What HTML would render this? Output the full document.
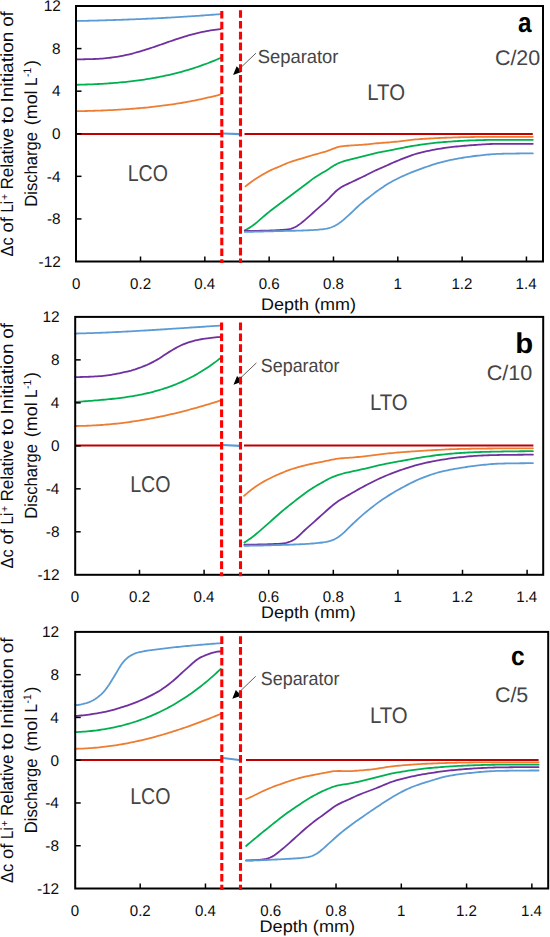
<!DOCTYPE html>
<html><head><meta charset="utf-8"><title>Li+ concentration profiles</title>
<style>
html,body{margin:0;padding:0;background:#fff;}
body{width:550px;height:937px;overflow:hidden;position:relative;}
svg{position:absolute;left:0;top:0;display:block;}
text{font-family:"Liberation Sans",sans-serif;text-rendering:geometricPrecision;}
</style></head><body>
<svg width="550" height="937" viewBox="0 0 550 937">
<rect x="0" y="0" width="550" height="937" fill="#fff"/>
<path d="M76,134 L221.5,134" stroke="#C00000" stroke-width="2" fill="none"/>
<path d="M244.5,134 L532.8,134" stroke="#C00000" stroke-width="2" fill="none"/>
<path d="M76.4,111.21 L78.4,111.18 L80.4,111.13 L82.4,111.09 L84.4,111.04 L86.4,110.99 L88.4,110.94 L90.4,110.89 L92.4,110.83 L94.4,110.76 L96.4,110.7 L98.4,110.63 L100.4,110.55 L102.4,110.48 L104.4,110.4 L106.4,110.31 L108.4,110.22 L110.4,110.13 L112.4,110.03 L114.4,109.92 L116.4,109.82 L118.4,109.7 L120.4,109.58 L122.4,109.46 L124.4,109.33 L126.4,109.2 L128.4,109.06 L130.4,108.91 L132.4,108.76 L134.4,108.61 L136.4,108.44 L138.4,108.27 L140.4,108.1 L142.4,107.92 L144.4,107.73 L146.4,107.53 L148.4,107.33 L150.4,107.12 L152.4,106.91 L154.4,106.68 L156.4,106.45 L158.4,106.21 L160.4,105.97 L162.4,105.72 L164.4,105.46 L166.4,105.19 L168.4,104.91 L170.4,104.62 L172.4,104.33 L174.4,104.03 L176.4,103.72 L178.4,103.4 L180.4,103.07 L182.4,102.74 L184.4,102.39 L186.4,102.04 L188.4,101.67 L190.4,101.3 L192.4,100.91 L194.4,100.52 L196.4,100.12 L198.4,99.71 L200.4,99.28 L202.4,98.85 L204.4,98.41 L206.4,97.95 L208.4,97.49 L210.4,97.01 L212.4,96.53 L214.4,96.03 L216.4,95.52 L218.4,95.01 L220.4,94.48 L220.6,94.42" fill="none" stroke="#ED7D31" stroke-width="1.8" stroke-linejoin="round" stroke-linecap="round"/>
<path d="M76.4,84.8 L78.4,84.75 L80.4,84.7 L82.4,84.64 L84.4,84.58 L86.4,84.51 L88.4,84.44 L90.4,84.36 L92.4,84.28 L94.4,84.19 L96.4,84.1 L98.4,84 L100.4,83.89 L102.4,83.78 L104.4,83.66 L106.4,83.53 L108.4,83.4 L110.4,83.26 L112.4,83.11 L114.4,82.95 L116.4,82.79 L118.4,82.61 L120.4,82.43 L122.4,82.24 L124.4,82.05 L126.4,81.84 L128.4,81.62 L130.4,81.4 L132.4,81.16 L134.4,80.91 L136.4,80.66 L138.4,80.39 L140.4,80.12 L142.4,79.83 L144.4,79.53 L146.4,79.22 L148.4,78.9 L150.4,78.57 L152.4,78.22 L154.4,77.87 L156.4,77.5 L158.4,77.12 L160.4,76.73 L162.4,76.32 L164.4,75.9 L166.4,75.47 L168.4,75.02 L170.4,74.57 L172.4,74.09 L174.4,73.6 L176.4,73.1 L178.4,72.59 L180.4,72.06 L182.4,71.51 L184.4,70.95 L186.4,70.37 L188.4,69.78 L190.4,69.18 L192.4,68.55 L194.4,67.91 L196.4,67.26 L198.4,66.58 L200.4,65.9 L202.4,65.19 L204.4,64.47 L206.4,63.72 L208.4,62.97 L210.4,62.19 L212.4,61.39 L214.4,60.58 L216.4,59.75 L218.4,58.9 L220.4,58.03 L220.6,57.94" fill="none" stroke="#00B050" stroke-width="1.8" stroke-linejoin="round" stroke-linecap="round"/>
<path d="M76.4,59.41 L78.4,59.36 L80.4,59.32 L82.4,59.28 L84.4,59.24 L86.4,59.21 L88.4,59.16 L90.4,59.11 L92.4,59.05 L94.4,58.98 L96.4,58.9 L98.4,58.79 L100.4,58.67 L102.4,58.53 L104.4,58.37 L106.4,58.18 L108.4,57.97 L110.4,57.74 L112.4,57.48 L114.4,57.2 L116.4,56.89 L118.4,56.56 L120.4,56.2 L122.4,55.81 L124.4,55.41 L126.4,54.97 L128.4,54.51 L130.4,54.03 L132.4,53.53 L134.4,53 L136.4,52.46 L138.4,51.89 L140.4,51.31 L142.4,50.7 L144.4,50.09 L146.4,49.45 L148.4,48.81 L150.4,48.15 L152.4,47.48 L154.4,46.8 L156.4,46.11 L158.4,45.42 L160.4,44.73 L162.4,44.03 L164.4,43.33 L166.4,42.64 L168.4,41.94 L170.4,41.25 L172.4,40.56 L174.4,39.89 L176.4,39.22 L178.4,38.56 L180.4,37.91 L182.4,37.28 L184.4,36.66 L186.4,36.06 L188.4,35.47 L190.4,34.91 L192.4,34.36 L194.4,33.83 L196.4,33.33 L198.4,32.85 L200.4,32.39 L202.4,31.95 L204.4,31.54 L206.4,31.15 L208.4,30.79 L210.4,30.45 L212.4,30.14 L214.4,29.85 L216.4,29.59 L218.4,29.35 L220.4,29.13 L220.6,29.11" fill="none" stroke="#7030A0" stroke-width="1.8" stroke-linejoin="round" stroke-linecap="round"/>
<path d="M76.4,21.01 L78.4,20.97 L80.4,20.93 L82.4,20.88 L84.4,20.84 L86.4,20.79 L88.4,20.74 L90.4,20.69 L92.4,20.64 L94.4,20.59 L96.4,20.54 L98.4,20.48 L100.4,20.43 L102.4,20.37 L104.4,20.31 L106.4,20.26 L108.4,20.19 L110.4,20.13 L112.4,20.07 L114.4,20 L116.4,19.94 L118.4,19.87 L120.4,19.8 L122.4,19.73 L124.4,19.66 L126.4,19.59 L128.4,19.51 L130.4,19.43 L132.4,19.36 L134.4,19.28 L136.4,19.2 L138.4,19.11 L140.4,19.03 L142.4,18.94 L144.4,18.85 L146.4,18.76 L148.4,18.67 L150.4,18.58 L152.4,18.49 L154.4,18.39 L156.4,18.29 L158.4,18.19 L160.4,18.09 L162.4,17.99 L164.4,17.88 L166.4,17.77 L168.4,17.67 L170.4,17.55 L172.4,17.44 L174.4,17.33 L176.4,17.21 L178.4,17.09 L180.4,16.97 L182.4,16.85 L184.4,16.72 L186.4,16.6 L188.4,16.47 L190.4,16.34 L192.4,16.2 L194.4,16.07 L196.4,15.93 L198.4,15.79 L200.4,15.65 L202.4,15.51 L204.4,15.36 L206.4,15.22 L208.4,15.06 L210.4,14.91 L212.4,14.76 L214.4,14.6 L216.4,14.44 L218.4,14.28 L220.4,14.12 L220.6,14.1" fill="none" stroke="#5B9BD5" stroke-width="1.8" stroke-linejoin="round" stroke-linecap="round"/>
<path d="M245.5,186.4 L247.5,184.81 L249.5,183.26 L251.5,181.78 L253.5,180.37 L255.5,179.03 L257.5,177.76 L259.5,176.52 L261.5,175.3 L263.5,174.11 L265.5,172.95 L267.5,171.85 L269.5,170.82 L271.5,169.86 L273.5,168.98 L275.5,168.14 L277.5,167.31 L279.5,166.48 L281.5,165.62 L283.5,164.74 L285.5,163.87 L287.5,163.03 L289.5,162.25 L291.5,161.55 L293.5,160.9 L295.5,160.3 L297.5,159.72 L299.5,159.13 L301.5,158.54 L303.5,157.93 L305.5,157.32 L307.5,156.7 L309.5,156.09 L311.5,155.49 L313.5,154.91 L315.5,154.34 L317.5,153.79 L319.5,153.25 L321.5,152.72 L323.5,152.18 L325.5,151.59 L327.5,150.95 L329.5,150.22 L331.5,149.41 L333.5,148.58 L335.5,147.81 L337.5,147.17 L339.5,146.69 L341.5,146.36 L343.5,146.12 L345.5,145.93 L347.5,145.76 L349.5,145.61 L351.5,145.46 L353.5,145.32 L355.5,145.18 L357.5,145.05 L359.5,144.92 L361.5,144.79 L363.5,144.64 L365.5,144.48 L367.5,144.3 L369.5,144.1 L371.5,143.89 L373.5,143.67 L375.5,143.45 L377.5,143.25 L379.5,143.06 L381.5,142.9 L383.5,142.75 L385.5,142.62 L387.5,142.48 L389.5,142.32 L391.5,142.15 L393.5,141.96 L395.5,141.75 L397.5,141.52 L399.5,141.28 L401.5,141.04 L403.5,140.79 L405.5,140.54 L407.5,140.3 L409.5,140.07 L411.5,139.85 L413.5,139.64 L415.5,139.46 L417.5,139.3 L419.5,139.15 L421.5,139.01 L423.5,138.88 L425.5,138.75 L427.5,138.63 L429.5,138.51 L431.5,138.4 L433.5,138.3 L435.5,138.2 L437.5,138.1 L439.5,138.01 L441.5,137.92 L443.5,137.84 L445.5,137.76 L447.5,137.69 L449.5,137.61 L451.5,137.54 L453.5,137.47 L455.5,137.4 L457.5,137.33 L459.5,137.27 L461.5,137.21 L463.5,137.16 L465.5,137.11 L467.5,137.07 L469.5,137.04 L471.5,137.01 L473.5,136.98 L475.5,136.96 L477.5,136.94 L479.5,136.92 L481.5,136.9 L483.5,136.88 L485.5,136.86 L487.5,136.85 L489.5,136.83 L491.5,136.82 L493.5,136.81 L495.5,136.81 L497.5,136.8 L499.5,136.8 L501.5,136.8 L503.5,136.8 L505.5,136.8 L507.5,136.8 L509.5,136.8 L511.5,136.8 L513.5,136.8 L515.5,136.8 L517.5,136.8 L519.5,136.8 L521.5,136.8 L523.5,136.8 L525.5,136.8 L527.5,136.8 L529.5,136.8 L531.5,136.8 L532.8,136.8" fill="none" stroke="#ED7D31" stroke-width="1.8" stroke-linejoin="round" stroke-linecap="round"/>
<path d="M244.8,230.4 L246.8,229.3 L248.8,228.14 L250.8,226.88 L252.8,225.5 L254.8,223.99 L256.8,222.35 L258.8,220.63 L260.8,218.89 L262.8,217.18 L264.8,215.48 L266.8,213.81 L268.8,212.16 L270.8,210.54 L272.8,208.97 L274.8,207.44 L276.8,205.95 L278.8,204.47 L280.8,203 L282.8,201.51 L284.8,200.02 L286.8,198.52 L288.8,197.02 L290.8,195.52 L292.8,194.03 L294.8,192.53 L296.8,191.03 L298.8,189.54 L300.8,188.04 L302.8,186.53 L304.8,185.01 L306.8,183.47 L308.8,181.92 L310.8,180.37 L312.8,178.88 L314.8,177.48 L316.8,176.17 L318.8,174.94 L320.8,173.76 L322.8,172.59 L324.8,171.4 L326.8,170.17 L328.8,168.9 L330.8,167.6 L332.8,166.31 L334.8,165.1 L336.8,164.01 L338.8,163.06 L340.8,162.24 L342.8,161.52 L344.8,160.88 L346.8,160.3 L348.8,159.77 L350.8,159.27 L352.8,158.79 L354.8,158.31 L356.8,157.83 L358.8,157.34 L360.8,156.84 L362.8,156.34 L364.8,155.83 L366.8,155.33 L368.8,154.83 L370.8,154.33 L372.8,153.84 L374.8,153.37 L376.8,152.91 L378.8,152.47 L380.8,152.05 L382.8,151.65 L384.8,151.27 L386.8,150.89 L388.8,150.52 L390.8,150.14 L392.8,149.76 L394.8,149.36 L396.8,148.97 L398.8,148.57 L400.8,148.17 L402.8,147.77 L404.8,147.38 L406.8,147 L408.8,146.62 L410.8,146.26 L412.8,145.92 L414.8,145.59 L416.8,145.29 L418.8,144.99 L420.8,144.71 L422.8,144.43 L424.8,144.16 L426.8,143.9 L428.8,143.64 L430.8,143.39 L432.8,143.16 L434.8,142.93 L436.8,142.72 L438.8,142.52 L440.8,142.33 L442.8,142.15 L444.8,141.98 L446.8,141.83 L448.8,141.68 L450.8,141.53 L452.8,141.39 L454.8,141.26 L456.8,141.13 L458.8,141.01 L460.8,140.89 L462.8,140.79 L464.8,140.69 L466.8,140.6 L468.8,140.51 L470.8,140.44 L472.8,140.37 L474.8,140.3 L476.8,140.24 L478.8,140.18 L480.8,140.12 L482.8,140.06 L484.8,140.01 L486.8,139.96 L488.8,139.92 L490.8,139.88 L492.8,139.85 L494.8,139.83 L496.8,139.81 L498.8,139.8 L500.8,139.8 L502.8,139.8 L504.8,139.8 L506.8,139.8 L508.8,139.8 L510.8,139.8 L512.8,139.8 L514.8,139.8 L516.8,139.8 L518.8,139.8 L520.8,139.8 L522.8,139.8 L524.8,139.8 L526.8,139.8 L528.8,139.8 L530.8,139.8 L532.8,139.8" fill="none" stroke="#00B050" stroke-width="1.8" stroke-linejoin="round" stroke-linecap="round"/>
<path d="M244.8,231 L246.8,230.99 L248.8,230.98 L250.8,230.96 L252.8,230.93 L254.8,230.9 L256.8,230.86 L258.8,230.81 L260.8,230.76 L262.8,230.71 L264.8,230.65 L266.8,230.59 L268.8,230.53 L270.8,230.46 L272.8,230.38 L274.8,230.3 L276.8,230.19 L278.8,230.07 L280.8,229.95 L282.8,229.81 L284.8,229.66 L286.8,229.47 L288.8,229.19 L290.8,228.77 L292.8,228.13 L294.8,227.26 L296.8,226.17 L298.8,224.87 L300.8,223.39 L302.8,221.77 L304.8,220.09 L306.8,218.37 L308.8,216.61 L310.8,214.82 L312.8,213.01 L314.8,211.19 L316.8,209.38 L318.8,207.62 L320.8,205.88 L322.8,204.17 L324.8,202.42 L326.8,200.59 L328.8,198.62 L330.8,196.49 L332.8,194.32 L334.8,192.27 L336.8,190.46 L338.8,188.9 L340.8,187.54 L342.8,186.35 L344.8,185.29 L346.8,184.33 L348.8,183.41 L350.8,182.49 L352.8,181.54 L354.8,180.58 L356.8,179.62 L358.8,178.67 L360.8,177.73 L362.8,176.78 L364.8,175.82 L366.8,174.82 L368.8,173.8 L370.8,172.78 L372.8,171.77 L374.8,170.8 L376.8,169.87 L378.8,168.98 L380.8,168.11 L382.8,167.24 L384.8,166.36 L386.8,165.47 L388.8,164.58 L390.8,163.68 L392.8,162.8 L394.8,161.93 L396.8,161.09 L398.8,160.26 L400.8,159.45 L402.8,158.64 L404.8,157.84 L406.8,157.06 L408.8,156.3 L410.8,155.58 L412.8,154.89 L414.8,154.26 L416.8,153.67 L418.8,153.13 L420.8,152.61 L422.8,152.12 L424.8,151.65 L426.8,151.2 L428.8,150.76 L430.8,150.35 L432.8,149.95 L434.8,149.57 L436.8,149.21 L438.8,148.87 L440.8,148.55 L442.8,148.25 L444.8,147.97 L446.8,147.7 L448.8,147.44 L450.8,147.2 L452.8,146.96 L454.8,146.73 L456.8,146.52 L458.8,146.31 L460.8,146.11 L462.8,145.93 L464.8,145.75 L466.8,145.58 L468.8,145.42 L470.8,145.27 L472.8,145.13 L474.8,144.99 L476.8,144.85 L478.8,144.71 L480.8,144.57 L482.8,144.44 L484.8,144.31 L486.8,144.2 L488.8,144.09 L490.8,144 L492.8,143.93 L494.8,143.87 L496.8,143.83 L498.8,143.81 L500.8,143.8 L502.8,143.8 L504.8,143.8 L506.8,143.8 L508.8,143.8 L510.8,143.8 L512.8,143.8 L514.8,143.8 L516.8,143.8 L518.8,143.8 L520.8,143.8 L522.8,143.8 L524.8,143.8 L526.8,143.8 L528.8,143.8 L530.8,143.8 L532.8,143.8" fill="none" stroke="#7030A0" stroke-width="1.8" stroke-linejoin="round" stroke-linecap="round"/>
<path d="M244.8,231.9 L246.8,231.86 L248.8,231.82 L250.8,231.77 L252.8,231.73 L254.8,231.69 L256.8,231.64 L258.8,231.6 L260.8,231.55 L262.8,231.51 L264.8,231.46 L266.8,231.41 L268.8,231.36 L270.8,231.32 L272.8,231.27 L274.8,231.22 L276.8,231.17 L278.8,231.12 L280.8,231.07 L282.8,231.02 L284.8,230.97 L286.8,230.92 L288.8,230.88 L290.8,230.83 L292.8,230.78 L294.8,230.73 L296.8,230.68 L298.8,230.62 L300.8,230.56 L302.8,230.49 L304.8,230.42 L306.8,230.34 L308.8,230.26 L310.8,230.16 L312.8,230.06 L314.8,229.94 L316.8,229.8 L318.8,229.65 L320.8,229.47 L322.8,229.25 L324.8,228.98 L326.8,228.61 L328.8,228.12 L330.8,227.5 L332.8,226.75 L334.8,225.82 L336.8,224.7 L338.8,223.39 L340.8,221.94 L342.8,220.37 L344.8,218.69 L346.8,216.92 L348.8,215.09 L350.8,213.22 L352.8,211.32 L354.8,209.4 L356.8,207.5 L358.8,205.65 L360.8,203.88 L362.8,202.19 L364.8,200.57 L366.8,198.99 L368.8,197.43 L370.8,195.88 L372.8,194.34 L374.8,192.82 L376.8,191.33 L378.8,189.88 L380.8,188.48 L382.8,187.13 L384.8,185.82 L386.8,184.56 L388.8,183.34 L390.8,182.19 L392.8,181.08 L394.8,180.01 L396.8,178.99 L398.8,178 L400.8,177.05 L402.8,176.12 L404.8,175.22 L406.8,174.35 L408.8,173.51 L410.8,172.7 L412.8,171.9 L414.8,171.13 L416.8,170.38 L418.8,169.64 L420.8,168.91 L422.8,168.19 L424.8,167.47 L426.8,166.75 L428.8,166.04 L430.8,165.35 L432.8,164.68 L434.8,164.04 L436.8,163.43 L438.8,162.85 L440.8,162.31 L442.8,161.8 L444.8,161.31 L446.8,160.84 L448.8,160.39 L450.8,159.96 L452.8,159.55 L454.8,159.16 L456.8,158.78 L458.8,158.42 L460.8,158.07 L462.8,157.74 L464.8,157.42 L466.8,157.11 L468.8,156.81 L470.8,156.53 L472.8,156.26 L474.8,156 L476.8,155.76 L478.8,155.54 L480.8,155.32 L482.8,155.11 L484.8,154.91 L486.8,154.71 L488.8,154.52 L490.8,154.35 L492.8,154.19 L494.8,154.05 L496.8,153.94 L498.8,153.85 L500.8,153.79 L502.8,153.74 L504.8,153.7 L506.8,153.66 L508.8,153.62 L510.8,153.59 L512.8,153.56 L514.8,153.53 L516.8,153.5 L518.8,153.48 L520.8,153.46 L522.8,153.44 L524.8,153.43 L526.8,153.42 L528.8,153.41 L530.8,153.4 L532.8,153.4" fill="none" stroke="#5B9BD5" stroke-width="1.8" stroke-linejoin="round" stroke-linecap="round"/>
<path d="M222.5,133.5 L240,134.2" stroke="#5B9BD5" stroke-width="2.2" fill="none"/>
<line x1="255.9" y1="53.2" x2="239.33" y2="68.97" stroke="#4d4d4d" stroke-width="0.9"/>
<path d="M233.1,74.9 L236.64,66.15 L242.02,71.8 Z" fill="#000"/>
<rect x="76" y="6" width="467" height="255.5" fill="none" stroke="#000" stroke-width="2"/>
<path d="M221.8,10.9 V18.5 M221.8,21.7 V29.3 M221.8,32.5 V40.1 M221.8,43.3 V50.9 M221.8,54.1 V61.7 M221.8,64.9 V72.5 M221.8,75.7 V83.3 M221.8,86.5 V94.1 M221.8,97.3 V104.9 M221.8,108.1 V115.7 M221.8,118.9 V126.5 M221.8,129.7 V137.3 M221.8,140.5 V148.1 M221.8,151.3 V158.9 M221.8,162.1 V169.7 M221.8,172.9 V180.5 M221.8,183.7 V191.3 M221.8,194.5 V202.1 M221.8,205.3 V212.9 M221.8,216.1 V223.7 M221.8,226.9 V234.5 M221.8,237.7 V245.3 M221.8,248.5 V256.1 M221.8,259.3 V263" stroke="#FF0000" stroke-width="3.1" fill="none"/>
<path d="M240.5,10.2 V17.8 M240.5,21 V28.6 M240.5,31.8 V39.4 M240.5,42.6 V50.2 M240.5,53.4 V61 M240.5,64.2 V71.8 M240.5,75 V82.6 M240.5,85.8 V93.4 M240.5,96.6 V104.2 M240.5,107.4 V115 M240.5,118.2 V125.8 M240.5,129 V136.6 M240.5,139.8 V147.4 M240.5,150.6 V158.2 M240.5,161.4 V169 M240.5,172.2 V179.8 M240.5,183 V190.6 M240.5,193.8 V201.4 M240.5,204.6 V212.2 M240.5,215.4 V223 M240.5,226.2 V233.8 M240.5,237 V244.6 M240.5,247.8 V255.4 M240.5,258.6 V263" stroke="#FF0000" stroke-width="3.1" fill="none"/>
<line x1="76" y1="48.58" x2="81.5" y2="48.58" stroke="#000" stroke-width="1.5"/>
<line x1="76" y1="91.17" x2="81.5" y2="91.17" stroke="#000" stroke-width="1.5"/>
<line x1="76" y1="133.75" x2="81.5" y2="133.75" stroke="#000" stroke-width="1.5"/>
<line x1="76" y1="176.33" x2="81.5" y2="176.33" stroke="#000" stroke-width="1.5"/>
<line x1="76" y1="218.92" x2="81.5" y2="218.92" stroke="#000" stroke-width="1.5"/>
<line x1="140.52" y1="261.5" x2="140.52" y2="256.5" stroke="#000" stroke-width="1.5"/>
<line x1="204.84" y1="261.5" x2="204.84" y2="256.5" stroke="#000" stroke-width="1.5"/>
<line x1="269.16" y1="261.5" x2="269.16" y2="256.5" stroke="#000" stroke-width="1.5"/>
<line x1="333.48" y1="261.5" x2="333.48" y2="256.5" stroke="#000" stroke-width="1.5"/>
<line x1="397.8" y1="261.5" x2="397.8" y2="256.5" stroke="#000" stroke-width="1.5"/>
<line x1="462.12" y1="261.5" x2="462.12" y2="256.5" stroke="#000" stroke-width="1.5"/>
<line x1="526.44" y1="261.5" x2="526.44" y2="256.5" stroke="#000" stroke-width="1.5"/>
<text x="43.65" y="11.3" font-size="15.4" textLength="17.13" lengthAdjust="spacingAndGlyphs" fill="#0d0d0d">12</text>
<text x="52.1" y="53.88" font-size="15.4" textLength="8.56" lengthAdjust="spacingAndGlyphs" fill="#0d0d0d">8</text>
<text x="51.89" y="96.47" font-size="15.4" textLength="8.56" lengthAdjust="spacingAndGlyphs" fill="#0d0d0d">4</text>
<text x="52.04" y="139.05" font-size="15.4" textLength="8.56" lengthAdjust="spacingAndGlyphs" fill="#0d0d0d">0</text>
<text x="46.76" y="181.63" font-size="15.4" textLength="13.69" lengthAdjust="spacingAndGlyphs" fill="#0d0d0d">-4</text>
<text x="46.98" y="224.22" font-size="15.4" textLength="13.69" lengthAdjust="spacingAndGlyphs" fill="#0d0d0d">-8</text>
<text x="38.52" y="266.8" font-size="15.4" textLength="22.26" lengthAdjust="spacingAndGlyphs" fill="#0d0d0d">-12</text>
<text x="72" y="289" font-size="15.4" textLength="8.39" lengthAdjust="spacingAndGlyphs" fill="#0d0d0d">0</text>
<text x="130.11" y="289" font-size="15.4" textLength="20.98" lengthAdjust="spacingAndGlyphs" fill="#0d0d0d">0.2</text>
<text x="194.28" y="289" font-size="15.4" textLength="20.98" lengthAdjust="spacingAndGlyphs" fill="#0d0d0d">0.4</text>
<text x="258.71" y="289" font-size="15.4" textLength="20.98" lengthAdjust="spacingAndGlyphs" fill="#0d0d0d">0.6</text>
<text x="323.02" y="289" font-size="15.4" textLength="20.98" lengthAdjust="spacingAndGlyphs" fill="#0d0d0d">0.8</text>
<text x="393.4" y="289" font-size="15.4" textLength="8.39" lengthAdjust="spacingAndGlyphs" fill="#0d0d0d">1</text>
<text x="451.43" y="289" font-size="15.4" textLength="20.98" lengthAdjust="spacingAndGlyphs" fill="#0d0d0d">1.2</text>
<text x="515.6" y="289" font-size="15.4" textLength="20.98" lengthAdjust="spacingAndGlyphs" fill="#0d0d0d">1.4</text>
<text x="261.12" y="309.9" font-size="16.8" textLength="94.99" lengthAdjust="spacingAndGlyphs" fill="#0d0d0d">Depth (mm)</text>
<text x="257.66" y="62.9" font-size="18.9" textLength="80.84" lengthAdjust="spacingAndGlyphs" fill="#454545">Separator</text>
<text x="367.31" y="99.5" font-size="22.4" textLength="37.72" lengthAdjust="spacingAndGlyphs" fill="#454545">LTO</text>
<text x="127.69" y="181.3" font-size="23" textLength="40.24" lengthAdjust="spacingAndGlyphs" fill="#454545">LCO</text>
<text x="494.91" y="64.6" font-size="21" textLength="45.33" lengthAdjust="spacingAndGlyphs" fill="#454545">C/20</text>
<text x="518.09" y="32.2" font-size="28" textLength="13.56" lengthAdjust="spacingAndGlyphs" font-weight="bold" fill="#000">a</text>
<g transform="translate(13.4,0) rotate(-90)"><text x="-256.48" y="0" font-size="17.6" textLength="19.01" lengthAdjust="spacingAndGlyphs" fill="#0d0d0d">Δc</text><text x="-232.57" y="0" font-size="17.6" textLength="15.35" lengthAdjust="spacingAndGlyphs" fill="#0d0d0d">of</text><text x="-212.53" y="0" font-size="17.6" textLength="11.63" lengthAdjust="spacingAndGlyphs" fill="#0d0d0d">Li</text><text x="-200.11" y="-5.6" font-size="10.4" textLength="6.13" lengthAdjust="spacingAndGlyphs" fill="#0d0d0d">+</text><text x="-189.6" y="0" font-size="17.6" textLength="61.55" lengthAdjust="spacingAndGlyphs" fill="#0d0d0d">Relative</text><text x="-123.51" y="0" font-size="17.6" textLength="17.18" lengthAdjust="spacingAndGlyphs" fill="#0d0d0d">to</text><text x="-102.56" y="0" font-size="17.6" textLength="71" lengthAdjust="spacingAndGlyphs" fill="#0d0d0d">Initiation</text><text x="-26.89" y="0" font-size="17.6" textLength="15.66" lengthAdjust="spacingAndGlyphs" fill="#0d0d0d">of</text></g>
<g transform="translate(36.9,0) rotate(-90)"><text x="-206.76" y="0" font-size="17.6" textLength="74.7" lengthAdjust="spacingAndGlyphs" fill="#0d0d0d">Discharge</text><text x="-125.31" y="0" font-size="17.6" textLength="34.91" lengthAdjust="spacingAndGlyphs" fill="#0d0d0d">(mol</text><text x="-86.05" y="0" font-size="17.6" textLength="8.45" lengthAdjust="spacingAndGlyphs" fill="#0d0d0d">L</text><text x="-77.06" y="-6.3" font-size="11" textLength="9.16" lengthAdjust="spacingAndGlyphs" fill="#0d0d0d">-1</text><text x="-66.31" y="0" font-size="17.6" textLength="6.28" lengthAdjust="spacingAndGlyphs" fill="#0d0d0d">)</text></g>
<path d="M75.2,445.5 L221.6,445.5" stroke="#C00000" stroke-width="2" fill="none"/>
<path d="M244,445.5 L533.4,445.5" stroke="#C00000" stroke-width="2" fill="none"/>
<path d="M75.2,425.99 L77.2,425.98 L79.2,425.95 L81.2,425.91 L83.2,425.87 L85.2,425.81 L87.2,425.74 L89.2,425.66 L91.2,425.57 L93.2,425.47 L95.2,425.37 L97.2,425.25 L99.2,425.12 L101.2,424.98 L103.2,424.83 L105.2,424.67 L107.2,424.51 L109.2,424.33 L111.2,424.14 L113.2,423.94 L115.2,423.74 L117.2,423.52 L119.2,423.29 L121.2,423.06 L123.2,422.81 L125.2,422.56 L127.2,422.3 L129.2,422.02 L131.2,421.74 L133.2,421.45 L135.2,421.15 L137.2,420.84 L139.2,420.52 L141.2,420.19 L143.2,419.86 L145.2,419.51 L147.2,419.16 L149.2,418.79 L151.2,418.42 L153.2,418.04 L155.2,417.65 L157.2,417.25 L159.2,416.85 L161.2,416.43 L163.2,416.01 L165.2,415.57 L167.2,415.13 L169.2,414.69 L171.2,414.23 L173.2,413.76 L175.2,413.29 L177.2,412.81 L179.2,412.32 L181.2,411.82 L183.2,411.31 L185.2,410.8 L187.2,410.28 L189.2,409.75 L191.2,409.21 L193.2,408.67 L195.2,408.11 L197.2,407.55 L199.2,406.98 L201.2,406.41 L203.2,405.82 L205.2,405.23 L207.2,404.63 L209.2,404.03 L211.2,403.41 L213.2,402.79 L215.2,402.17 L217.2,401.53 L219.2,400.89 L220.7,400.4" fill="none" stroke="#ED7D31" stroke-width="1.8" stroke-linejoin="round" stroke-linecap="round"/>
<path d="M75.2,402.04 L77.2,401.88 L79.2,401.72 L81.2,401.56 L83.2,401.41 L85.2,401.25 L87.2,401.09 L89.2,400.94 L91.2,400.78 L93.2,400.62 L95.2,400.45 L97.2,400.29 L99.2,400.12 L101.2,399.94 L103.2,399.76 L105.2,399.58 L107.2,399.39 L109.2,399.19 L111.2,398.98 L113.2,398.77 L115.2,398.54 L117.2,398.31 L119.2,398.07 L121.2,397.81 L123.2,397.55 L125.2,397.27 L127.2,396.98 L129.2,396.68 L131.2,396.36 L133.2,396.03 L135.2,395.68 L137.2,395.32 L139.2,394.94 L141.2,394.54 L143.2,394.13 L145.2,393.7 L147.2,393.25 L149.2,392.78 L151.2,392.28 L153.2,391.77 L155.2,391.24 L157.2,390.68 L159.2,390.11 L161.2,389.5 L163.2,388.88 L165.2,388.23 L167.2,387.55 L169.2,386.85 L171.2,386.12 L173.2,385.37 L175.2,384.59 L177.2,383.78 L179.2,382.94 L181.2,382.07 L183.2,381.17 L185.2,380.24 L187.2,379.27 L189.2,378.28 L191.2,377.25 L193.2,376.19 L195.2,375.09 L197.2,373.97 L199.2,372.8 L201.2,371.6 L203.2,370.36 L205.2,369.09 L207.2,367.77 L209.2,366.42 L211.2,365.03 L213.2,363.6 L215.2,362.13 L217.2,360.62 L219.2,359.07 L220.7,357.88" fill="none" stroke="#00B050" stroke-width="1.8" stroke-linejoin="round" stroke-linecap="round"/>
<path d="M75.2,377.1 L77.2,377.09 L79.2,377.06 L81.2,377.02 L83.2,376.97 L85.2,376.9 L87.2,376.83 L89.2,376.74 L91.2,376.64 L93.2,376.54 L95.2,376.43 L97.2,376.31 L99.2,376.19 L101.2,376.04 L103.2,375.86 L105.2,375.64 L107.2,375.38 L109.2,375.1 L111.2,374.78 L113.2,374.44 L115.2,374.08 L117.2,373.69 L119.2,373.28 L121.2,372.86 L123.2,372.43 L125.2,371.98 L127.2,371.53 L129.2,371.05 L131.2,370.53 L133.2,369.96 L135.2,369.34 L137.2,368.67 L139.2,367.96 L141.2,367.22 L143.2,366.45 L145.2,365.65 L147.2,364.8 L149.2,363.88 L151.2,362.89 L153.2,361.85 L155.2,360.76 L157.2,359.64 L159.2,358.45 L161.2,357.18 L163.2,355.85 L165.2,354.5 L167.2,353.16 L169.2,351.88 L171.2,350.66 L173.2,349.52 L175.2,348.41 L177.2,347.32 L179.2,346.27 L181.2,345.28 L183.2,344.38 L185.2,343.56 L187.2,342.84 L189.2,342.19 L191.2,341.58 L193.2,341.01 L195.2,340.49 L197.2,340.03 L199.2,339.62 L201.2,339.26 L203.2,338.93 L205.2,338.62 L207.2,338.32 L209.2,338.04 L211.2,337.78 L213.2,337.55 L215.2,337.35 L217.2,337.19 L219.2,337.08 L220.7,337" fill="none" stroke="#7030A0" stroke-width="1.8" stroke-linejoin="round" stroke-linecap="round"/>
<path d="M75.2,333.53 L77.2,333.49 L79.2,333.44 L81.2,333.39 L83.2,333.34 L85.2,333.28 L87.2,333.22 L89.2,333.16 L91.2,333.1 L93.2,333.03 L95.2,332.96 L97.2,332.89 L99.2,332.81 L101.2,332.73 L103.2,332.65 L105.2,332.57 L107.2,332.48 L109.2,332.39 L111.2,332.3 L113.2,332.21 L115.2,332.12 L117.2,332.02 L119.2,331.92 L121.2,331.82 L123.2,331.72 L125.2,331.62 L127.2,331.51 L129.2,331.4 L131.2,331.29 L133.2,331.18 L135.2,331.07 L137.2,330.95 L139.2,330.84 L141.2,330.72 L143.2,330.6 L145.2,330.48 L147.2,330.36 L149.2,330.24 L151.2,330.12 L153.2,330 L155.2,329.87 L157.2,329.74 L159.2,329.62 L161.2,329.49 L163.2,329.36 L165.2,329.23 L167.2,329.1 L169.2,328.97 L171.2,328.84 L173.2,328.71 L175.2,328.58 L177.2,328.45 L179.2,328.32 L181.2,328.19 L183.2,328.05 L185.2,327.92 L187.2,327.79 L189.2,327.66 L191.2,327.52 L193.2,327.39 L195.2,327.26 L197.2,327.13 L199.2,327 L201.2,326.86 L203.2,326.73 L205.2,326.6 L207.2,326.47 L209.2,326.34 L211.2,326.22 L213.2,326.09 L215.2,325.96 L217.2,325.84 L219.2,325.71 L220.7,325.62" fill="none" stroke="#5B9BD5" stroke-width="1.8" stroke-linejoin="round" stroke-linecap="round"/>
<path d="M244.1,495.8 L246.1,494.06 L248.1,492.36 L250.1,490.72 L252.1,489.16 L254.1,487.68 L256.1,486.27 L258.1,484.94 L260.1,483.68 L262.1,482.49 L264.1,481.35 L266.1,480.26 L268.1,479.2 L270.1,478.19 L272.1,477.22 L274.1,476.28 L276.1,475.37 L278.1,474.5 L280.1,473.64 L282.1,472.8 L284.1,471.97 L286.1,471.17 L288.1,470.4 L290.1,469.69 L292.1,469.01 L294.1,468.37 L296.1,467.77 L298.1,467.2 L300.1,466.66 L302.1,466.15 L304.1,465.65 L306.1,465.16 L308.1,464.67 L310.1,464.2 L312.1,463.75 L314.1,463.32 L316.1,462.92 L318.1,462.53 L320.1,462.15 L322.1,461.76 L324.1,461.36 L326.1,460.93 L328.1,460.51 L330.1,460.08 L332.1,459.68 L334.1,459.3 L336.1,458.96 L338.1,458.67 L340.1,458.43 L342.1,458.24 L344.1,458.08 L346.1,457.94 L348.1,457.81 L350.1,457.67 L352.1,457.53 L354.1,457.38 L356.1,457.21 L358.1,457.01 L360.1,456.8 L362.1,456.56 L364.1,456.32 L366.1,456.06 L368.1,455.8 L370.1,455.55 L372.1,455.3 L374.1,455.05 L376.1,454.82 L378.1,454.58 L380.1,454.35 L382.1,454.12 L384.1,453.9 L386.1,453.68 L388.1,453.46 L390.1,453.26 L392.1,453.06 L394.1,452.88 L396.1,452.7 L398.1,452.52 L400.1,452.36 L402.1,452.19 L404.1,452.04 L406.1,451.89 L408.1,451.74 L410.1,451.6 L412.1,451.46 L414.1,451.32 L416.1,451.19 L418.1,451.07 L420.1,450.94 L422.1,450.82 L424.1,450.7 L426.1,450.59 L428.1,450.47 L430.1,450.36 L432.1,450.25 L434.1,450.14 L436.1,450.02 L438.1,449.91 L440.1,449.79 L442.1,449.68 L444.1,449.57 L446.1,449.46 L448.1,449.36 L450.1,449.26 L452.1,449.18 L454.1,449.1 L456.1,449.04 L458.1,448.99 L460.1,448.94 L462.1,448.89 L464.1,448.85 L466.1,448.81 L468.1,448.78 L470.1,448.74 L472.1,448.71 L474.1,448.68 L476.1,448.65 L478.1,448.62 L480.1,448.6 L482.1,448.57 L484.1,448.55 L486.1,448.53 L488.1,448.52 L490.1,448.5 L492.1,448.48 L494.1,448.47 L496.1,448.46 L498.1,448.44 L500.1,448.43 L502.1,448.42 L504.1,448.4 L506.1,448.39 L508.1,448.38 L510.1,448.37 L512.1,448.36 L514.1,448.35 L516.1,448.34 L518.1,448.33 L520.1,448.32 L522.1,448.32 L524.1,448.31 L526.1,448.31 L528.1,448.3 L530.1,448.3 L532.1,448.3 L532.9,448.3" fill="none" stroke="#ED7D31" stroke-width="1.8" stroke-linejoin="round" stroke-linecap="round"/>
<path d="M244.4,542.5 L246.4,541.19 L248.4,539.85 L250.4,538.44 L252.4,536.97 L254.4,535.42 L256.4,533.8 L258.4,532.12 L260.4,530.4 L262.4,528.66 L264.4,526.9 L266.4,525.13 L268.4,523.34 L270.4,521.55 L272.4,519.77 L274.4,518 L276.4,516.24 L278.4,514.49 L280.4,512.75 L282.4,511.04 L284.4,509.36 L286.4,507.71 L288.4,506.09 L290.4,504.5 L292.4,502.92 L294.4,501.35 L296.4,499.8 L298.4,498.26 L300.4,496.73 L302.4,495.21 L304.4,493.72 L306.4,492.26 L308.4,490.83 L310.4,489.45 L312.4,488.13 L314.4,486.91 L316.4,485.76 L318.4,484.65 L320.4,483.53 L322.4,482.39 L324.4,481.23 L326.4,480.09 L328.4,479.03 L330.4,478.04 L332.4,477.13 L334.4,476.31 L336.4,475.57 L338.4,474.9 L340.4,474.3 L342.4,473.75 L344.4,473.23 L346.4,472.73 L348.4,472.26 L350.4,471.82 L352.4,471.39 L354.4,470.97 L356.4,470.56 L358.4,470.13 L360.4,469.69 L362.4,469.23 L364.4,468.76 L366.4,468.27 L368.4,467.77 L370.4,467.27 L372.4,466.78 L374.4,466.29 L376.4,465.82 L378.4,465.36 L380.4,464.93 L382.4,464.51 L384.4,464.11 L386.4,463.72 L388.4,463.34 L390.4,462.96 L392.4,462.59 L394.4,462.22 L396.4,461.86 L398.4,461.49 L400.4,461.12 L402.4,460.75 L404.4,460.38 L406.4,460 L408.4,459.63 L410.4,459.26 L412.4,458.9 L414.4,458.55 L416.4,458.2 L418.4,457.87 L420.4,457.54 L422.4,457.23 L424.4,456.92 L426.4,456.62 L428.4,456.32 L430.4,456.03 L432.4,455.75 L434.4,455.49 L436.4,455.23 L438.4,454.99 L440.4,454.76 L442.4,454.55 L444.4,454.34 L446.4,454.14 L448.4,453.94 L450.4,453.76 L452.4,453.58 L454.4,453.42 L456.4,453.26 L458.4,453.12 L460.4,452.98 L462.4,452.85 L464.4,452.73 L466.4,452.61 L468.4,452.49 L470.4,452.39 L472.4,452.29 L474.4,452.2 L476.4,452.12 L478.4,452.05 L480.4,451.99 L482.4,451.94 L484.4,451.89 L486.4,451.84 L488.4,451.8 L490.4,451.75 L492.4,451.71 L494.4,451.66 L496.4,451.62 L498.4,451.58 L500.4,451.54 L502.4,451.5 L504.4,451.47 L506.4,451.44 L508.4,451.4 L510.4,451.37 L512.4,451.35 L514.4,451.32 L516.4,451.3 L518.4,451.28 L520.4,451.26 L522.4,451.24 L524.4,451.23 L526.4,451.22 L528.4,451.21 L530.4,451.2 L532.4,451.2 L532.9,451.2" fill="none" stroke="#00B050" stroke-width="1.8" stroke-linejoin="round" stroke-linecap="round"/>
<path d="M244.4,544.7 L246.4,544.69 L248.4,544.68 L250.4,544.66 L252.4,544.63 L254.4,544.6 L256.4,544.56 L258.4,544.52 L260.4,544.47 L262.4,544.42 L264.4,544.36 L266.4,544.3 L268.4,544.24 L270.4,544.18 L272.4,544.1 L274.4,544.02 L276.4,543.93 L278.4,543.81 L280.4,543.66 L282.4,543.47 L284.4,543.18 L286.4,542.77 L288.4,542.21 L290.4,541.5 L292.4,540.59 L294.4,539.42 L296.4,537.96 L298.4,536.23 L300.4,534.35 L302.4,532.4 L304.4,530.49 L306.4,528.65 L308.4,526.87 L310.4,525.11 L312.4,523.35 L314.4,521.57 L316.4,519.78 L318.4,517.97 L320.4,516.16 L322.4,514.36 L324.4,512.57 L326.4,510.79 L328.4,509.02 L330.4,507.26 L332.4,505.57 L334.4,503.98 L336.4,502.49 L338.4,501.11 L340.4,499.82 L342.4,498.6 L344.4,497.44 L346.4,496.3 L348.4,495.15 L350.4,493.99 L352.4,492.83 L354.4,491.67 L356.4,490.53 L358.4,489.4 L360.4,488.3 L362.4,487.21 L364.4,486.13 L366.4,485.06 L368.4,484.01 L370.4,482.97 L372.4,481.96 L374.4,480.96 L376.4,479.99 L378.4,479.05 L380.4,478.14 L382.4,477.25 L384.4,476.38 L386.4,475.54 L388.4,474.71 L390.4,473.9 L392.4,473.11 L394.4,472.35 L396.4,471.6 L398.4,470.88 L400.4,470.17 L402.4,469.49 L404.4,468.82 L406.4,468.16 L408.4,467.52 L410.4,466.9 L412.4,466.3 L414.4,465.72 L416.4,465.16 L418.4,464.63 L420.4,464.12 L422.4,463.62 L424.4,463.15 L426.4,462.69 L428.4,462.25 L430.4,461.82 L432.4,461.41 L434.4,461.01 L436.4,460.64 L438.4,460.28 L440.4,459.95 L442.4,459.62 L444.4,459.31 L446.4,459.02 L448.4,458.73 L450.4,458.46 L452.4,458.19 L454.4,457.94 L456.4,457.71 L458.4,457.48 L460.4,457.26 L462.4,457.05 L464.4,456.85 L466.4,456.65 L468.4,456.46 L470.4,456.27 L472.4,456.1 L474.4,455.95 L476.4,455.81 L478.4,455.69 L480.4,455.59 L482.4,455.5 L484.4,455.42 L486.4,455.34 L488.4,455.27 L490.4,455.21 L492.4,455.14 L494.4,455.09 L496.4,455.04 L498.4,454.99 L500.4,454.96 L502.4,454.92 L504.4,454.9 L506.4,454.87 L508.4,454.85 L510.4,454.83 L512.4,454.81 L514.4,454.79 L516.4,454.78 L518.4,454.76 L520.4,454.75 L522.4,454.73 L524.4,454.72 L526.4,454.71 L528.4,454.71 L530.4,454.7 L532.4,454.7 L532.9,454.7" fill="none" stroke="#7030A0" stroke-width="1.8" stroke-linejoin="round" stroke-linecap="round"/>
<path d="M244.4,545.8 L246.4,545.77 L248.4,545.75 L250.4,545.72 L252.4,545.68 L254.4,545.65 L256.4,545.61 L258.4,545.57 L260.4,545.52 L262.4,545.48 L264.4,545.43 L266.4,545.38 L268.4,545.33 L270.4,545.28 L272.4,545.22 L274.4,545.17 L276.4,545.11 L278.4,545.05 L280.4,545 L282.4,544.94 L284.4,544.87 L286.4,544.81 L288.4,544.74 L290.4,544.67 L292.4,544.6 L294.4,544.52 L296.4,544.44 L298.4,544.35 L300.4,544.26 L302.4,544.16 L304.4,544.05 L306.4,543.94 L308.4,543.81 L310.4,543.67 L312.4,543.52 L314.4,543.35 L316.4,543.16 L318.4,542.96 L320.4,542.74 L322.4,542.5 L324.4,542.22 L326.4,541.89 L328.4,541.48 L330.4,540.94 L332.4,540.22 L334.4,539.31 L336.4,538.22 L338.4,536.96 L340.4,535.53 L342.4,533.91 L344.4,532.08 L346.4,530.12 L348.4,528.13 L350.4,526.16 L352.4,524.25 L354.4,522.36 L356.4,520.5 L358.4,518.67 L360.4,516.88 L362.4,515.13 L364.4,513.43 L366.4,511.75 L368.4,510.11 L370.4,508.5 L372.4,506.92 L374.4,505.37 L376.4,503.86 L378.4,502.38 L380.4,500.95 L382.4,499.56 L384.4,498.21 L386.4,496.9 L388.4,495.62 L390.4,494.38 L392.4,493.17 L394.4,491.99 L396.4,490.84 L398.4,489.7 L400.4,488.59 L402.4,487.49 L404.4,486.42 L406.4,485.36 L408.4,484.33 L410.4,483.32 L412.4,482.33 L414.4,481.36 L416.4,480.42 L418.4,479.52 L420.4,478.66 L422.4,477.84 L424.4,477.05 L426.4,476.3 L428.4,475.58 L430.4,474.89 L432.4,474.23 L434.4,473.6 L436.4,473 L438.4,472.45 L440.4,471.93 L442.4,471.44 L444.4,470.99 L446.4,470.55 L448.4,470.13 L450.4,469.73 L452.4,469.35 L454.4,468.98 L456.4,468.62 L458.4,468.27 L460.4,467.94 L462.4,467.61 L464.4,467.3 L466.4,466.99 L468.4,466.68 L470.4,466.4 L472.4,466.12 L474.4,465.86 L476.4,465.61 L478.4,465.38 L480.4,465.16 L482.4,464.95 L484.4,464.75 L486.4,464.55 L488.4,464.36 L490.4,464.18 L492.4,464.02 L494.4,463.88 L496.4,463.76 L498.4,463.67 L500.4,463.6 L502.4,463.55 L504.4,463.51 L506.4,463.47 L508.4,463.43 L510.4,463.4 L512.4,463.37 L514.4,463.34 L516.4,463.31 L518.4,463.29 L520.4,463.27 L522.4,463.25 L524.4,463.23 L526.4,463.22 L528.4,463.21 L530.4,463.2 L532.4,463.2 L532.9,463.2" fill="none" stroke="#5B9BD5" stroke-width="1.8" stroke-linejoin="round" stroke-linecap="round"/>
<path d="M222.5,445 L240,445.9" stroke="#5B9BD5" stroke-width="2.2" fill="none"/>
<line x1="256.4" y1="362.9" x2="239.73" y2="378.77" stroke="#4d4d4d" stroke-width="0.9"/>
<path d="M233.5,384.7 L237.04,375.95 L242.42,381.6 Z" fill="#000"/>
<rect x="75.2" y="316.9" width="468" height="257.9" fill="none" stroke="#000" stroke-width="2"/>
<path d="M221.6,322.6 V330.2 M221.6,333.45 V341.05 M221.6,344.3 V351.9 M221.6,355.15 V362.75 M221.6,366 V373.6 M221.6,376.85 V384.45 M221.6,387.7 V395.3 M221.6,398.55 V406.15 M221.6,409.4 V417 M221.6,420.25 V427.85 M221.6,431.1 V438.7 M221.6,441.95 V449.55 M221.6,452.8 V460.4 M221.6,463.65 V471.25 M221.6,474.5 V482.1 M221.6,485.35 V492.95 M221.6,496.2 V503.8 M221.6,507.05 V514.65 M221.6,517.9 V525.5 M221.6,528.75 V536.35 M221.6,539.6 V547.2 M221.6,550.45 V558.05 M221.6,561.3 V568.9 M221.6,572.15 V576.3" stroke="#FF0000" stroke-width="3.1" fill="none"/>
<path d="M240.5,322.6 V330.2 M240.5,333.45 V341.05 M240.5,344.3 V351.9 M240.5,355.15 V362.75 M240.5,366 V373.6 M240.5,376.85 V384.45 M240.5,387.7 V395.3 M240.5,398.55 V406.15 M240.5,409.4 V417 M240.5,420.25 V427.85 M240.5,431.1 V438.7 M240.5,441.95 V449.55 M240.5,452.8 V460.4 M240.5,463.65 V471.25 M240.5,474.5 V482.1 M240.5,485.35 V492.95 M240.5,496.2 V503.8 M240.5,507.05 V514.65 M240.5,517.9 V525.5 M240.5,528.75 V536.35 M240.5,539.6 V547.2 M240.5,550.45 V558.05 M240.5,561.3 V568.9 M240.5,572.15 V576.3" stroke="#FF0000" stroke-width="3.1" fill="none"/>
<line x1="75.2" y1="359.88" x2="80.7" y2="359.88" stroke="#000" stroke-width="1.5"/>
<line x1="75.2" y1="402.87" x2="80.7" y2="402.87" stroke="#000" stroke-width="1.5"/>
<line x1="75.2" y1="445.85" x2="80.7" y2="445.85" stroke="#000" stroke-width="1.5"/>
<line x1="75.2" y1="488.83" x2="80.7" y2="488.83" stroke="#000" stroke-width="1.5"/>
<line x1="75.2" y1="531.82" x2="80.7" y2="531.82" stroke="#000" stroke-width="1.5"/>
<line x1="139.5" y1="574.8" x2="139.5" y2="569.8" stroke="#000" stroke-width="1.5"/>
<line x1="204.1" y1="574.8" x2="204.1" y2="569.8" stroke="#000" stroke-width="1.5"/>
<line x1="268.7" y1="574.8" x2="268.7" y2="569.8" stroke="#000" stroke-width="1.5"/>
<line x1="333.3" y1="574.8" x2="333.3" y2="569.8" stroke="#000" stroke-width="1.5"/>
<line x1="397.9" y1="574.8" x2="397.9" y2="569.8" stroke="#000" stroke-width="1.5"/>
<line x1="462.5" y1="574.8" x2="462.5" y2="569.8" stroke="#000" stroke-width="1.5"/>
<line x1="527.1" y1="574.8" x2="527.1" y2="569.8" stroke="#000" stroke-width="1.5"/>
<text x="42.55" y="322.2" font-size="15.4" textLength="17.13" lengthAdjust="spacingAndGlyphs" fill="#0d0d0d">12</text>
<text x="51" y="365.18" font-size="15.4" textLength="8.56" lengthAdjust="spacingAndGlyphs" fill="#0d0d0d">8</text>
<text x="50.79" y="408.17" font-size="15.4" textLength="8.56" lengthAdjust="spacingAndGlyphs" fill="#0d0d0d">4</text>
<text x="50.94" y="451.15" font-size="15.4" textLength="8.56" lengthAdjust="spacingAndGlyphs" fill="#0d0d0d">0</text>
<text x="45.66" y="494.13" font-size="15.4" textLength="13.69" lengthAdjust="spacingAndGlyphs" fill="#0d0d0d">-4</text>
<text x="45.88" y="537.12" font-size="15.4" textLength="13.69" lengthAdjust="spacingAndGlyphs" fill="#0d0d0d">-8</text>
<text x="37.42" y="580.1" font-size="15.4" textLength="22.26" lengthAdjust="spacingAndGlyphs" fill="#0d0d0d">-12</text>
<text x="70.7" y="602.3" font-size="15.4" textLength="8.39" lengthAdjust="spacingAndGlyphs" fill="#0d0d0d">0</text>
<text x="129.09" y="602.3" font-size="15.4" textLength="20.98" lengthAdjust="spacingAndGlyphs" fill="#0d0d0d">0.2</text>
<text x="193.54" y="602.3" font-size="15.4" textLength="20.98" lengthAdjust="spacingAndGlyphs" fill="#0d0d0d">0.4</text>
<text x="258.25" y="602.3" font-size="15.4" textLength="20.98" lengthAdjust="spacingAndGlyphs" fill="#0d0d0d">0.6</text>
<text x="322.84" y="602.3" font-size="15.4" textLength="20.98" lengthAdjust="spacingAndGlyphs" fill="#0d0d0d">0.8</text>
<text x="393.5" y="602.3" font-size="15.4" textLength="8.39" lengthAdjust="spacingAndGlyphs" fill="#0d0d0d">1</text>
<text x="451.81" y="602.3" font-size="15.4" textLength="20.98" lengthAdjust="spacingAndGlyphs" fill="#0d0d0d">1.2</text>
<text x="516.26" y="602.3" font-size="15.4" textLength="20.98" lengthAdjust="spacingAndGlyphs" fill="#0d0d0d">1.4</text>
<text x="261.13" y="617.7" font-size="16.8" textLength="94.58" lengthAdjust="spacingAndGlyphs" fill="#0d0d0d">Depth (mm)</text>
<text x="260.79" y="372.4" font-size="18.9" textLength="78.61" lengthAdjust="spacingAndGlyphs" fill="#454545">Separator</text>
<text x="369.91" y="410.1" font-size="22.4" textLength="37.72" lengthAdjust="spacingAndGlyphs" fill="#454545">LTO</text>
<text x="130.19" y="491.5" font-size="23" textLength="40.35" lengthAdjust="spacingAndGlyphs" fill="#454545">LCO</text>
<text x="486.7" y="380.4" font-size="21" textLength="45.64" lengthAdjust="spacingAndGlyphs" fill="#454545">C/10</text>
<text x="515.36" y="352.7" font-size="28.5" textLength="17.94" lengthAdjust="spacingAndGlyphs" font-weight="bold" fill="#000">b</text>
<g transform="translate(13.4,0) rotate(-90)"><text x="-568.38" y="0" font-size="17.6" textLength="19.01" lengthAdjust="spacingAndGlyphs" fill="#0d0d0d">Δc</text><text x="-544.47" y="0" font-size="17.6" textLength="15.35" lengthAdjust="spacingAndGlyphs" fill="#0d0d0d">of</text><text x="-524.43" y="0" font-size="17.6" textLength="11.63" lengthAdjust="spacingAndGlyphs" fill="#0d0d0d">Li</text><text x="-512.01" y="-5.6" font-size="10.4" textLength="6.13" lengthAdjust="spacingAndGlyphs" fill="#0d0d0d">+</text><text x="-501.5" y="0" font-size="17.6" textLength="61.55" lengthAdjust="spacingAndGlyphs" fill="#0d0d0d">Relative</text><text x="-435.41" y="0" font-size="17.6" textLength="17.18" lengthAdjust="spacingAndGlyphs" fill="#0d0d0d">to</text><text x="-414.46" y="0" font-size="17.6" textLength="71" lengthAdjust="spacingAndGlyphs" fill="#0d0d0d">Initiation</text><text x="-338.79" y="0" font-size="17.6" textLength="15.66" lengthAdjust="spacingAndGlyphs" fill="#0d0d0d">of</text></g>
<g transform="translate(36.9,0) rotate(-90)"><text x="-518.66" y="0" font-size="17.6" textLength="74.7" lengthAdjust="spacingAndGlyphs" fill="#0d0d0d">Discharge</text><text x="-437.21" y="0" font-size="17.6" textLength="34.91" lengthAdjust="spacingAndGlyphs" fill="#0d0d0d">(mol</text><text x="-397.95" y="0" font-size="17.6" textLength="8.45" lengthAdjust="spacingAndGlyphs" fill="#0d0d0d">L</text><text x="-388.96" y="-6.3" font-size="11" textLength="9.16" lengthAdjust="spacingAndGlyphs" fill="#0d0d0d">-1</text><text x="-378.21" y="0" font-size="17.6" textLength="6.28" lengthAdjust="spacingAndGlyphs" fill="#0d0d0d">)</text></g>
<path d="M75.2,760 L221.8,760" stroke="#C00000" stroke-width="2" fill="none"/>
<path d="M246,760 L538.6,760" stroke="#C00000" stroke-width="2" fill="none"/>
<path d="M75.2,748.8 L77.2,748.76 L79.2,748.7 L81.2,748.64 L83.2,748.55 L85.2,748.46 L87.2,748.34 L89.2,748.22 L91.2,748.08 L93.2,747.92 L95.2,747.76 L97.2,747.57 L99.2,747.38 L101.2,747.17 L103.2,746.95 L105.2,746.71 L107.2,746.46 L109.2,746.2 L111.2,745.92 L113.2,745.64 L115.2,745.33 L117.2,745.02 L119.2,744.69 L121.2,744.35 L123.2,744 L125.2,743.64 L127.2,743.26 L129.2,742.87 L131.2,742.47 L133.2,742.06 L135.2,741.64 L137.2,741.2 L139.2,740.75 L141.2,740.29 L143.2,739.82 L145.2,739.34 L147.2,738.85 L149.2,738.34 L151.2,737.83 L153.2,737.3 L155.2,736.76 L157.2,736.22 L159.2,735.66 L161.2,735.09 L163.2,734.51 L165.2,733.92 L167.2,733.32 L169.2,732.71 L171.2,732.09 L173.2,731.46 L175.2,730.83 L177.2,730.18 L179.2,729.52 L181.2,728.85 L183.2,728.17 L185.2,727.49 L187.2,726.79 L189.2,726.09 L191.2,725.37 L193.2,724.65 L195.2,723.92 L197.2,723.18 L199.2,722.43 L201.2,721.68 L203.2,720.91 L205.2,720.14 L207.2,719.36 L209.2,718.57 L211.2,717.77 L213.2,716.97 L215.2,716.16 L217.2,715.34 L219.2,714.51 L220.7,713.88" fill="none" stroke="#ED7D31" stroke-width="1.8" stroke-linejoin="round" stroke-linecap="round"/>
<path d="M75.2,732.18 L77.2,732.08 L79.2,731.97 L81.2,731.84 L83.2,731.7 L85.2,731.55 L87.2,731.37 L89.2,731.18 L91.2,730.98 L93.2,730.76 L95.2,730.52 L97.2,730.27 L99.2,729.99 L101.2,729.7 L103.2,729.39 L105.2,729.07 L107.2,728.72 L109.2,728.36 L111.2,727.97 L113.2,727.57 L115.2,727.15 L117.2,726.7 L119.2,726.24 L121.2,725.76 L123.2,725.25 L125.2,724.73 L127.2,724.18 L129.2,723.61 L131.2,723.01 L133.2,722.4 L135.2,721.76 L137.2,721.1 L139.2,720.42 L141.2,719.71 L143.2,718.98 L145.2,718.22 L147.2,717.44 L149.2,716.63 L151.2,715.8 L153.2,714.95 L155.2,714.06 L157.2,713.15 L159.2,712.22 L161.2,711.26 L163.2,710.27 L165.2,709.25 L167.2,708.21 L169.2,707.14 L171.2,706.04 L173.2,704.91 L175.2,703.75 L177.2,702.57 L179.2,701.35 L181.2,700.11 L183.2,698.83 L185.2,697.53 L187.2,696.19 L189.2,694.82 L191.2,693.42 L193.2,692 L195.2,690.53 L197.2,689.04 L199.2,687.51 L201.2,685.96 L203.2,684.36 L205.2,682.74 L207.2,681.08 L209.2,679.39 L211.2,677.66 L213.2,675.9 L215.2,674.1 L217.2,672.27 L219.2,670.41 L220.7,668.98" fill="none" stroke="#00B050" stroke-width="1.8" stroke-linejoin="round" stroke-linecap="round"/>
<path d="M75.2,716 L77.2,715.86 L79.2,715.69 L81.2,715.51 L83.2,715.29 L85.2,715.06 L87.2,714.81 L89.2,714.54 L91.2,714.25 L93.2,713.95 L95.2,713.64 L97.2,713.31 L99.2,712.98 L101.2,712.62 L103.2,712.23 L105.2,711.8 L107.2,711.35 L109.2,710.87 L111.2,710.36 L113.2,709.82 L115.2,709.27 L117.2,708.69 L119.2,708.09 L121.2,707.47 L123.2,706.84 L125.2,706.19 L127.2,705.53 L129.2,704.85 L131.2,704.15 L133.2,703.41 L135.2,702.64 L137.2,701.85 L139.2,701.02 L141.2,700.16 L143.2,699.26 L145.2,698.34 L147.2,697.38 L149.2,696.4 L151.2,695.38 L153.2,694.33 L155.2,693.26 L157.2,692.14 L159.2,690.96 L161.2,689.69 L163.2,688.34 L165.2,686.92 L167.2,685.45 L169.2,683.92 L171.2,682.36 L173.2,680.73 L175.2,679.01 L177.2,677.21 L179.2,675.36 L181.2,673.49 L183.2,671.65 L185.2,669.85 L187.2,668.09 L189.2,666.31 L191.2,664.49 L193.2,662.69 L195.2,660.99 L197.2,659.45 L199.2,658.16 L201.2,657.1 L203.2,656.2 L205.2,655.35 L207.2,654.54 L209.2,653.79 L211.2,653.11 L213.2,652.52 L215.2,652.05 L217.2,651.7 L219.2,651.49 L220.7,651.4" fill="none" stroke="#7030A0" stroke-width="1.8" stroke-linejoin="round" stroke-linecap="round"/>
<path d="M75.2,705.2 L77.2,705.02 L79.2,704.75 L81.2,704.4 L83.2,703.98 L85.2,703.49 L87.2,702.87 L89.2,702.11 L91.2,701.22 L93.2,700.21 L95.2,699.03 L97.2,697.66 L99.2,696.08 L101.2,694.3 L103.2,692.32 L105.2,690.04 L107.2,687.37 L109.2,684.41 L111.2,681.28 L113.2,678.1 L115.2,674.8 L117.2,671.34 L119.2,667.9 L121.2,664.78 L123.2,662.14 L125.2,659.92 L127.2,658.07 L129.2,656.58 L131.2,655.34 L133.2,654.28 L135.2,653.42 L137.2,652.75 L139.2,652.23 L141.2,651.78 L143.2,651.37 L145.2,651.01 L147.2,650.69 L149.2,650.39 L151.2,650.11 L153.2,649.84 L155.2,649.58 L157.2,649.31 L159.2,649.05 L161.2,648.79 L163.2,648.54 L165.2,648.3 L167.2,648.07 L169.2,647.85 L171.2,647.63 L173.2,647.41 L175.2,647.2 L177.2,647 L179.2,646.8 L181.2,646.6 L183.2,646.41 L185.2,646.22 L187.2,646.02 L189.2,645.83 L191.2,645.65 L193.2,645.46 L195.2,645.28 L197.2,645.1 L199.2,644.92 L201.2,644.75 L203.2,644.57 L205.2,644.4 L207.2,644.24 L209.2,644.07 L211.2,643.91 L213.2,643.76 L215.2,643.6 L217.2,643.45 L219.2,643.32 L220.7,643.2" fill="none" stroke="#5B9BD5" stroke-width="1.8" stroke-linejoin="round" stroke-linecap="round"/>
<path d="M246.1,799 L248.1,798.22 L250.1,797.39 L252.1,796.49 L254.1,795.52 L256.1,794.52 L258.1,793.51 L260.1,792.52 L262.1,791.56 L264.1,790.64 L266.1,789.73 L268.1,788.86 L270.1,788.02 L272.1,787.21 L274.1,786.45 L276.1,785.71 L278.1,785 L280.1,784.3 L282.1,783.6 L284.1,782.91 L286.1,782.21 L288.1,781.51 L290.1,780.84 L292.1,780.19 L294.1,779.57 L296.1,778.99 L298.1,778.43 L300.1,777.9 L302.1,777.39 L304.1,776.92 L306.1,776.47 L308.1,776.05 L310.1,775.65 L312.1,775.25 L314.1,774.87 L316.1,774.48 L318.1,774.08 L320.1,773.68 L322.1,773.3 L324.1,772.92 L326.1,772.55 L328.1,772.18 L330.1,771.82 L332.1,771.48 L334.1,771.21 L336.1,771.04 L338.1,770.97 L340.1,770.98 L342.1,771.03 L344.1,771.09 L346.1,771.14 L348.1,771.15 L350.1,771.12 L352.1,771.03 L354.1,770.9 L356.1,770.74 L358.1,770.58 L360.1,770.43 L362.1,770.28 L364.1,770.12 L366.1,769.95 L368.1,769.77 L370.1,769.57 L372.1,769.34 L374.1,769.09 L376.1,768.8 L378.1,768.5 L380.1,768.19 L382.1,767.86 L384.1,767.54 L386.1,767.23 L388.1,766.92 L390.1,766.64 L392.1,766.39 L394.1,766.16 L396.1,765.95 L398.1,765.76 L400.1,765.58 L402.1,765.4 L404.1,765.22 L406.1,765.06 L408.1,764.89 L410.1,764.74 L412.1,764.59 L414.1,764.45 L416.1,764.31 L418.1,764.18 L420.1,764.06 L422.1,763.95 L424.1,763.84 L426.1,763.74 L428.1,763.65 L430.1,763.56 L432.1,763.48 L434.1,763.4 L436.1,763.33 L438.1,763.25 L440.1,763.18 L442.1,763.12 L444.1,763.05 L446.1,762.99 L448.1,762.93 L450.1,762.88 L452.1,762.82 L454.1,762.78 L456.1,762.73 L458.1,762.69 L460.1,762.66 L462.1,762.62 L464.1,762.59 L466.1,762.57 L468.1,762.54 L470.1,762.52 L472.1,762.49 L474.1,762.47 L476.1,762.44 L478.1,762.42 L480.1,762.4 L482.1,762.38 L484.1,762.36 L486.1,762.35 L488.1,762.34 L490.1,762.32 L492.1,762.31 L494.1,762.31 L496.1,762.3 L498.1,762.3 L500.1,762.3 L502.1,762.3 L504.1,762.3 L506.1,762.3 L508.1,762.3 L510.1,762.3 L512.1,762.3 L514.1,762.3 L516.1,762.3 L518.1,762.3 L520.1,762.3 L522.1,762.3 L524.1,762.3 L526.1,762.3 L528.1,762.3 L530.1,762.3 L532.1,762.3 L534.1,762.3 L536.1,762.3 L538.1,762.3 L538.6,762.3" fill="none" stroke="#ED7D31" stroke-width="1.8" stroke-linejoin="round" stroke-linecap="round"/>
<path d="M246.1,846 L248.1,844.3 L250.1,842.61 L252.1,840.93 L254.1,839.25 L256.1,837.59 L258.1,835.94 L260.1,834.3 L262.1,832.67 L264.1,831.05 L266.1,829.45 L268.1,827.86 L270.1,826.26 L272.1,824.67 L274.1,823.06 L276.1,821.45 L278.1,819.83 L280.1,818.24 L282.1,816.68 L284.1,815.17 L286.1,813.71 L288.1,812.29 L290.1,810.9 L292.1,809.53 L294.1,808.17 L296.1,806.81 L298.1,805.48 L300.1,804.15 L302.1,802.85 L304.1,801.57 L306.1,800.3 L308.1,799.06 L310.1,797.83 L312.1,796.65 L314.1,795.51 L316.1,794.42 L318.1,793.38 L320.1,792.38 L322.1,791.43 L324.1,790.52 L326.1,789.64 L328.1,788.79 L330.1,787.97 L332.1,787.2 L334.1,786.49 L336.1,785.9 L338.1,785.41 L340.1,785.03 L342.1,784.7 L344.1,784.41 L346.1,784.11 L348.1,783.79 L350.1,783.43 L352.1,783.05 L354.1,782.65 L356.1,782.24 L358.1,781.81 L360.1,781.36 L362.1,780.91 L364.1,780.43 L366.1,779.95 L368.1,779.46 L370.1,778.97 L372.1,778.47 L374.1,777.96 L376.1,777.44 L378.1,776.92 L380.1,776.39 L382.1,775.87 L384.1,775.35 L386.1,774.85 L388.1,774.37 L390.1,773.92 L392.1,773.49 L394.1,773.09 L396.1,772.72 L398.1,772.36 L400.1,772.02 L402.1,771.68 L404.1,771.35 L406.1,771.03 L408.1,770.72 L410.1,770.42 L412.1,770.13 L414.1,769.85 L416.1,769.58 L418.1,769.32 L420.1,769.08 L422.1,768.84 L424.1,768.62 L426.1,768.4 L428.1,768.2 L430.1,768.01 L432.1,767.83 L434.1,767.65 L436.1,767.48 L438.1,767.31 L440.1,767.15 L442.1,766.99 L444.1,766.84 L446.1,766.7 L448.1,766.56 L450.1,766.42 L452.1,766.3 L454.1,766.18 L456.1,766.07 L458.1,765.96 L460.1,765.86 L462.1,765.77 L464.1,765.68 L466.1,765.6 L468.1,765.51 L470.1,765.43 L472.1,765.35 L474.1,765.27 L476.1,765.2 L478.1,765.12 L480.1,765.05 L482.1,764.99 L484.1,764.93 L486.1,764.87 L488.1,764.83 L490.1,764.79 L492.1,764.75 L494.1,764.73 L496.1,764.71 L498.1,764.7 L500.1,764.7 L502.1,764.7 L504.1,764.7 L506.1,764.7 L508.1,764.7 L510.1,764.7 L512.1,764.7 L514.1,764.7 L516.1,764.7 L518.1,764.7 L520.1,764.7 L522.1,764.7 L524.1,764.7 L526.1,764.7 L528.1,764.7 L530.1,764.7 L532.1,764.7 L534.1,764.7 L536.1,764.7 L538.1,764.7 L538.6,764.7" fill="none" stroke="#00B050" stroke-width="1.8" stroke-linejoin="round" stroke-linecap="round"/>
<path d="M246.1,860.4 L248.1,860.37 L250.1,860.32 L252.1,860.25 L254.1,860.15 L256.1,860.03 L258.1,859.89 L260.1,859.72 L262.1,859.5 L264.1,859.2 L266.1,858.8 L268.1,858.26 L270.1,857.55 L272.1,856.61 L274.1,855.41 L276.1,853.99 L278.1,852.45 L280.1,850.86 L282.1,849.24 L284.1,847.57 L286.1,845.85 L288.1,844.1 L290.1,842.32 L292.1,840.54 L294.1,838.75 L296.1,836.95 L298.1,835.14 L300.1,833.32 L302.1,831.52 L304.1,829.75 L306.1,828.03 L308.1,826.36 L310.1,824.73 L312.1,823.14 L314.1,821.58 L316.1,820.06 L318.1,818.58 L320.1,817.13 L322.1,815.69 L324.1,814.22 L326.1,812.72 L328.1,811.19 L330.1,809.67 L332.1,808.19 L334.1,806.8 L336.1,805.52 L338.1,804.37 L340.1,803.33 L342.1,802.39 L344.1,801.49 L346.1,800.61 L348.1,799.72 L350.1,798.81 L352.1,797.88 L354.1,796.95 L356.1,796.04 L358.1,795.16 L360.1,794.32 L362.1,793.51 L364.1,792.73 L366.1,791.97 L368.1,791.23 L370.1,790.49 L372.1,789.75 L374.1,789.01 L376.1,788.24 L378.1,787.45 L380.1,786.63 L382.1,785.79 L384.1,784.93 L386.1,784.08 L388.1,783.25 L390.1,782.46 L392.1,781.73 L394.1,781.07 L396.1,780.46 L398.1,779.89 L400.1,779.34 L402.1,778.82 L404.1,778.31 L406.1,777.82 L408.1,777.34 L410.1,776.89 L412.1,776.45 L414.1,776.02 L416.1,775.61 L418.1,775.22 L420.1,774.84 L422.1,774.47 L424.1,774.12 L426.1,773.79 L428.1,773.46 L430.1,773.15 L432.1,772.85 L434.1,772.55 L436.1,772.26 L438.1,771.98 L440.1,771.71 L442.1,771.44 L444.1,771.18 L446.1,770.93 L448.1,770.7 L450.1,770.47 L452.1,770.25 L454.1,770.04 L456.1,769.84 L458.1,769.66 L460.1,769.48 L462.1,769.32 L464.1,769.17 L466.1,769.02 L468.1,768.88 L470.1,768.74 L472.1,768.6 L474.1,768.47 L476.1,768.34 L478.1,768.21 L480.1,768.1 L482.1,767.98 L484.1,767.88 L486.1,767.78 L488.1,767.69 L490.1,767.62 L492.1,767.55 L494.1,767.49 L496.1,767.44 L498.1,767.41 L500.1,767.38 L502.1,767.35 L504.1,767.33 L506.1,767.3 L508.1,767.28 L510.1,767.26 L512.1,767.24 L514.1,767.22 L516.1,767.2 L518.1,767.19 L520.1,767.17 L522.1,767.16 L524.1,767.15 L526.1,767.13 L528.1,767.12 L530.1,767.12 L532.1,767.11 L534.1,767.11 L536.1,767.1 L538.1,767.1 L538.6,767.1" fill="none" stroke="#7030A0" stroke-width="1.8" stroke-linejoin="round" stroke-linecap="round"/>
<path d="M246.1,860.6 L248.1,860.56 L250.1,860.52 L252.1,860.48 L254.1,860.42 L256.1,860.36 L258.1,860.3 L260.1,860.23 L262.1,860.15 L264.1,860.07 L266.1,859.99 L268.1,859.9 L270.1,859.8 L272.1,859.71 L274.1,859.61 L276.1,859.5 L278.1,859.4 L280.1,859.29 L282.1,859.18 L284.1,859.07 L286.1,858.97 L288.1,858.86 L290.1,858.75 L292.1,858.64 L294.1,858.52 L296.1,858.38 L298.1,858.24 L300.1,858.07 L302.1,857.88 L304.1,857.66 L306.1,857.41 L308.1,857.09 L310.1,856.64 L312.1,855.98 L314.1,855.07 L316.1,853.95 L318.1,852.65 L320.1,851.19 L322.1,849.57 L324.1,847.82 L326.1,846.01 L328.1,844.19 L330.1,842.37 L332.1,840.55 L334.1,838.74 L336.1,836.96 L338.1,835.23 L340.1,833.54 L342.1,831.9 L344.1,830.29 L346.1,828.72 L348.1,827.18 L350.1,825.68 L352.1,824.21 L354.1,822.76 L356.1,821.34 L358.1,819.93 L360.1,818.53 L362.1,817.14 L364.1,815.75 L366.1,814.37 L368.1,813 L370.1,811.63 L372.1,810.28 L374.1,808.94 L376.1,807.6 L378.1,806.27 L380.1,804.94 L382.1,803.61 L384.1,802.29 L386.1,800.98 L388.1,799.69 L390.1,798.44 L392.1,797.23 L394.1,796.06 L396.1,794.92 L398.1,793.81 L400.1,792.73 L402.1,791.67 L404.1,790.65 L406.1,789.67 L408.1,788.73 L410.1,787.85 L412.1,787.02 L414.1,786.24 L416.1,785.5 L418.1,784.8 L420.1,784.13 L422.1,783.48 L424.1,782.84 L426.1,782.22 L428.1,781.6 L430.1,780.99 L432.1,780.37 L434.1,779.75 L436.1,779.13 L438.1,778.54 L440.1,777.97 L442.1,777.44 L444.1,776.94 L446.1,776.49 L448.1,776.08 L450.1,775.7 L452.1,775.35 L454.1,775.01 L456.1,774.7 L458.1,774.41 L460.1,774.14 L462.1,773.89 L464.1,773.65 L466.1,773.43 L468.1,773.2 L470.1,772.99 L472.1,772.77 L474.1,772.56 L476.1,772.36 L478.1,772.17 L480.1,771.98 L482.1,771.8 L484.1,771.64 L486.1,771.49 L488.1,771.35 L490.1,771.23 L492.1,771.12 L494.1,771.03 L496.1,770.96 L498.1,770.91 L500.1,770.87 L502.1,770.83 L504.1,770.8 L506.1,770.77 L508.1,770.74 L510.1,770.71 L512.1,770.68 L514.1,770.66 L516.1,770.64 L518.1,770.61 L520.1,770.59 L522.1,770.58 L524.1,770.56 L526.1,770.54 L528.1,770.53 L530.1,770.52 L532.1,770.51 L534.1,770.51 L536.1,770.5 L538.1,770.5 L538.6,770.5" fill="none" stroke="#5B9BD5" stroke-width="1.8" stroke-linejoin="round" stroke-linecap="round"/>
<path d="M223,758 L239,760" stroke="#5B9BD5" stroke-width="2.2" fill="none"/>
<line x1="255.7" y1="676.3" x2="238.5" y2="692.84" stroke="#4d4d4d" stroke-width="0.9"/>
<path d="M232.3,698.8 L235.8,690.03 L241.2,695.65 Z" fill="#000"/>
<rect x="75.2" y="631.9" width="473" height="256.6" fill="none" stroke="#000" stroke-width="2"/>
<path d="M221.8,636.3 V643.9 M221.8,647.1 V654.7 M221.8,657.9 V665.5 M221.8,668.7 V676.3 M221.8,679.5 V687.1 M221.8,690.3 V697.9 M221.8,701.1 V708.7 M221.8,711.9 V719.5 M221.8,722.7 V730.3 M221.8,733.5 V741.1 M221.8,744.3 V751.9 M221.8,755.1 V762.7 M221.8,765.9 V773.5 M221.8,776.7 V784.3 M221.8,787.5 V795.1 M221.8,798.3 V805.9 M221.8,809.1 V816.7 M221.8,819.9 V827.5 M221.8,830.7 V838.3 M221.8,841.5 V849.1 M221.8,852.3 V859.9 M221.8,863.1 V870.7 M221.8,873.9 V881.5 M221.8,884.7 V890" stroke="#FF0000" stroke-width="3.1" fill="none"/>
<path d="M240.5,636.3 V643.9 M240.5,647.1 V654.7 M240.5,657.9 V665.5 M240.5,668.7 V676.3 M240.5,679.5 V687.1 M240.5,690.3 V697.9 M240.5,701.1 V708.7 M240.5,711.9 V719.5 M240.5,722.7 V730.3 M240.5,733.5 V741.1 M240.5,744.3 V751.9 M240.5,755.1 V762.7 M240.5,765.9 V773.5 M240.5,776.7 V784.3 M240.5,787.5 V795.1 M240.5,798.3 V805.9 M240.5,809.1 V816.7 M240.5,819.9 V827.5 M240.5,830.7 V838.3 M240.5,841.5 V849.1 M240.5,852.3 V859.9 M240.5,863.1 V870.7 M240.5,873.9 V881.5 M240.5,884.7 V890" stroke="#FF0000" stroke-width="3.1" fill="none"/>
<line x1="75.2" y1="674.67" x2="80.7" y2="674.67" stroke="#000" stroke-width="1.5"/>
<line x1="75.2" y1="717.43" x2="80.7" y2="717.43" stroke="#000" stroke-width="1.5"/>
<line x1="75.2" y1="760.2" x2="80.7" y2="760.2" stroke="#000" stroke-width="1.5"/>
<line x1="75.2" y1="802.97" x2="80.7" y2="802.97" stroke="#000" stroke-width="1.5"/>
<line x1="75.2" y1="845.73" x2="80.7" y2="845.73" stroke="#000" stroke-width="1.5"/>
<line x1="140.18" y1="888.5" x2="140.18" y2="883.5" stroke="#000" stroke-width="1.5"/>
<line x1="205.46" y1="888.5" x2="205.46" y2="883.5" stroke="#000" stroke-width="1.5"/>
<line x1="270.74" y1="888.5" x2="270.74" y2="883.5" stroke="#000" stroke-width="1.5"/>
<line x1="336.02" y1="888.5" x2="336.02" y2="883.5" stroke="#000" stroke-width="1.5"/>
<line x1="401.3" y1="888.5" x2="401.3" y2="883.5" stroke="#000" stroke-width="1.5"/>
<line x1="466.58" y1="888.5" x2="466.58" y2="883.5" stroke="#000" stroke-width="1.5"/>
<line x1="531.86" y1="888.5" x2="531.86" y2="883.5" stroke="#000" stroke-width="1.5"/>
<text x="42.05" y="637.2" font-size="15.4" textLength="17.13" lengthAdjust="spacingAndGlyphs" fill="#0d0d0d">12</text>
<text x="50.5" y="679.97" font-size="15.4" textLength="8.56" lengthAdjust="spacingAndGlyphs" fill="#0d0d0d">8</text>
<text x="50.29" y="722.73" font-size="15.4" textLength="8.56" lengthAdjust="spacingAndGlyphs" fill="#0d0d0d">4</text>
<text x="50.44" y="765.5" font-size="15.4" textLength="8.56" lengthAdjust="spacingAndGlyphs" fill="#0d0d0d">0</text>
<text x="45.16" y="808.27" font-size="15.4" textLength="13.69" lengthAdjust="spacingAndGlyphs" fill="#0d0d0d">-4</text>
<text x="45.38" y="851.03" font-size="15.4" textLength="13.69" lengthAdjust="spacingAndGlyphs" fill="#0d0d0d">-8</text>
<text x="36.92" y="893.8" font-size="15.4" textLength="22.26" lengthAdjust="spacingAndGlyphs" fill="#0d0d0d">-12</text>
<text x="70.7" y="915.8" font-size="15.4" textLength="8.39" lengthAdjust="spacingAndGlyphs" fill="#0d0d0d">0</text>
<text x="129.77" y="915.8" font-size="15.4" textLength="20.98" lengthAdjust="spacingAndGlyphs" fill="#0d0d0d">0.2</text>
<text x="194.9" y="915.8" font-size="15.4" textLength="20.98" lengthAdjust="spacingAndGlyphs" fill="#0d0d0d">0.4</text>
<text x="260.29" y="915.8" font-size="15.4" textLength="20.98" lengthAdjust="spacingAndGlyphs" fill="#0d0d0d">0.6</text>
<text x="325.56" y="915.8" font-size="15.4" textLength="20.98" lengthAdjust="spacingAndGlyphs" fill="#0d0d0d">0.8</text>
<text x="396.9" y="915.8" font-size="15.4" textLength="8.39" lengthAdjust="spacingAndGlyphs" fill="#0d0d0d">1</text>
<text x="455.89" y="915.8" font-size="15.4" textLength="20.98" lengthAdjust="spacingAndGlyphs" fill="#0d0d0d">1.2</text>
<text x="521.02" y="915.8" font-size="15.4" textLength="20.98" lengthAdjust="spacingAndGlyphs" fill="#0d0d0d">1.4</text>
<text x="259.51" y="932.4" font-size="16.8" textLength="95.61" lengthAdjust="spacingAndGlyphs" fill="#0d0d0d">Depth (mm)</text>
<text x="260.79" y="685.3" font-size="18.9" textLength="78.61" lengthAdjust="spacingAndGlyphs" fill="#454545">Separator</text>
<text x="369.91" y="722.9" font-size="22.4" textLength="37.72" lengthAdjust="spacingAndGlyphs" fill="#454545">LTO</text>
<text x="130.19" y="804" font-size="23" textLength="40.35" lengthAdjust="spacingAndGlyphs" fill="#454545">LCO</text>
<text x="494.91" y="702.1" font-size="21" textLength="33.39" lengthAdjust="spacingAndGlyphs" fill="#454545">C/5</text>
<text x="511.04" y="664.9" font-size="26.5" textLength="13.68" lengthAdjust="spacingAndGlyphs" font-weight="bold" fill="#000">c</text>
<g transform="translate(13.4,0) rotate(-90)"><text x="-882.88" y="0" font-size="17.6" textLength="19.01" lengthAdjust="spacingAndGlyphs" fill="#0d0d0d">Δc</text><text x="-858.97" y="0" font-size="17.6" textLength="15.35" lengthAdjust="spacingAndGlyphs" fill="#0d0d0d">of</text><text x="-838.93" y="0" font-size="17.6" textLength="11.63" lengthAdjust="spacingAndGlyphs" fill="#0d0d0d">Li</text><text x="-826.51" y="-5.6" font-size="10.4" textLength="6.13" lengthAdjust="spacingAndGlyphs" fill="#0d0d0d">+</text><text x="-816" y="0" font-size="17.6" textLength="61.55" lengthAdjust="spacingAndGlyphs" fill="#0d0d0d">Relative</text><text x="-749.91" y="0" font-size="17.6" textLength="17.18" lengthAdjust="spacingAndGlyphs" fill="#0d0d0d">to</text><text x="-728.96" y="0" font-size="17.6" textLength="71" lengthAdjust="spacingAndGlyphs" fill="#0d0d0d">Initiation</text><text x="-653.29" y="0" font-size="17.6" textLength="15.66" lengthAdjust="spacingAndGlyphs" fill="#0d0d0d">of</text></g>
<g transform="translate(36.9,0) rotate(-90)"><text x="-833.16" y="0" font-size="17.6" textLength="74.7" lengthAdjust="spacingAndGlyphs" fill="#0d0d0d">Discharge</text><text x="-751.71" y="0" font-size="17.6" textLength="34.91" lengthAdjust="spacingAndGlyphs" fill="#0d0d0d">(mol</text><text x="-712.45" y="0" font-size="17.6" textLength="8.45" lengthAdjust="spacingAndGlyphs" fill="#0d0d0d">L</text><text x="-703.46" y="-6.3" font-size="11" textLength="9.16" lengthAdjust="spacingAndGlyphs" fill="#0d0d0d">-1</text><text x="-692.71" y="0" font-size="17.6" textLength="6.28" lengthAdjust="spacingAndGlyphs" fill="#0d0d0d">)</text></g>
</svg>
</body></html>
